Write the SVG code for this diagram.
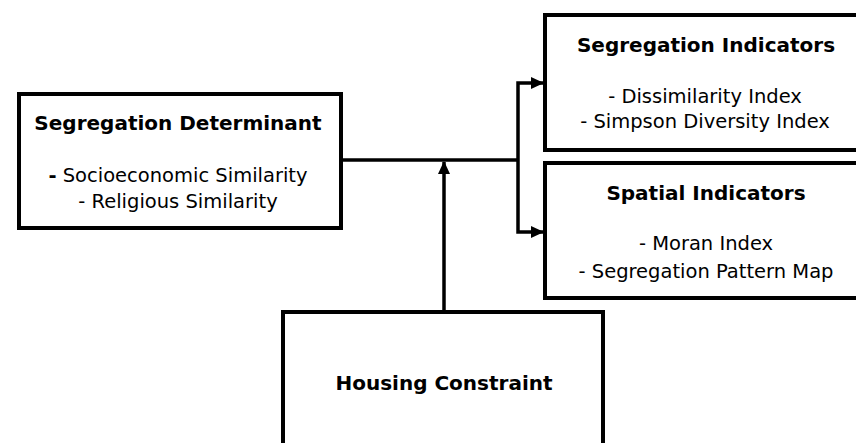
<svg xmlns="http://www.w3.org/2000/svg" width="856" height="443" viewBox="0 0 856 443">
<style>
.box{fill:#fff;stroke:#000;stroke-width:4}
.t{font-family:"DejaVu Sans",Verdana,sans-serif;font-size:19.5px;fill:#000;text-anchor:middle}
.b{font-weight:bold;font-size:20px}
.c{fill:none;stroke:#000;stroke-width:3.5}
</style>
<defs>
<marker id="ah" markerWidth="13" markerHeight="12" refX="12" refY="6" orient="auto" markerUnits="userSpaceOnUse">
<path d="M0,0 L13,6 L0,12 Z" fill="#000"/>
</marker>
</defs>
<rect width="856" height="443" fill="#fff"/>
<g id="determinant">
<rect class="box" x="19" y="94" width="322" height="134"/>
<text class="t b" x="178" y="130">Segregation Determinant</text>
<text class="t" x="178" y="182"><tspan font-weight="bold">-</tspan> Socioeconomic Similarity</text>
<text class="t" x="178" y="208">- Religious Similarity</text>
</g>
<g id="seg-indicators">
<rect class="box" x="545" y="15" width="315" height="135"/>
<text class="t b" x="706" y="52">Segregation Indicators</text>
<text class="t" x="705" y="103">- Dissimilarity Index</text>
<text class="t" x="705" y="128">- Simpson Diversity Index</text>
</g>
<g id="spatial-indicators">
<rect class="box" x="545" y="163" width="315" height="135"/>
<text class="t b" x="706" y="200">Spatial Indicators</text>
<text class="t" x="706" y="250">- Moran Index</text>
<text class="t" x="706" y="278">- Segregation Pattern Map</text>
</g>
<g id="housing">
<rect class="box" x="283" y="312" width="320" height="140"/>
<text class="t b" x="444" y="390">Housing Constraint</text>
</g>
<g id="connectors">
<path class="c" d="M341,160 H518"/>
<path class="c" d="M518,160 V83 H543" marker-end="url(#ah)"/>
<path class="c" d="M518,160 V232 H543" marker-end="url(#ah)"/>
<path class="c" d="M444,312 V162" marker-end="url(#ah)"/>
</g>
</svg>
